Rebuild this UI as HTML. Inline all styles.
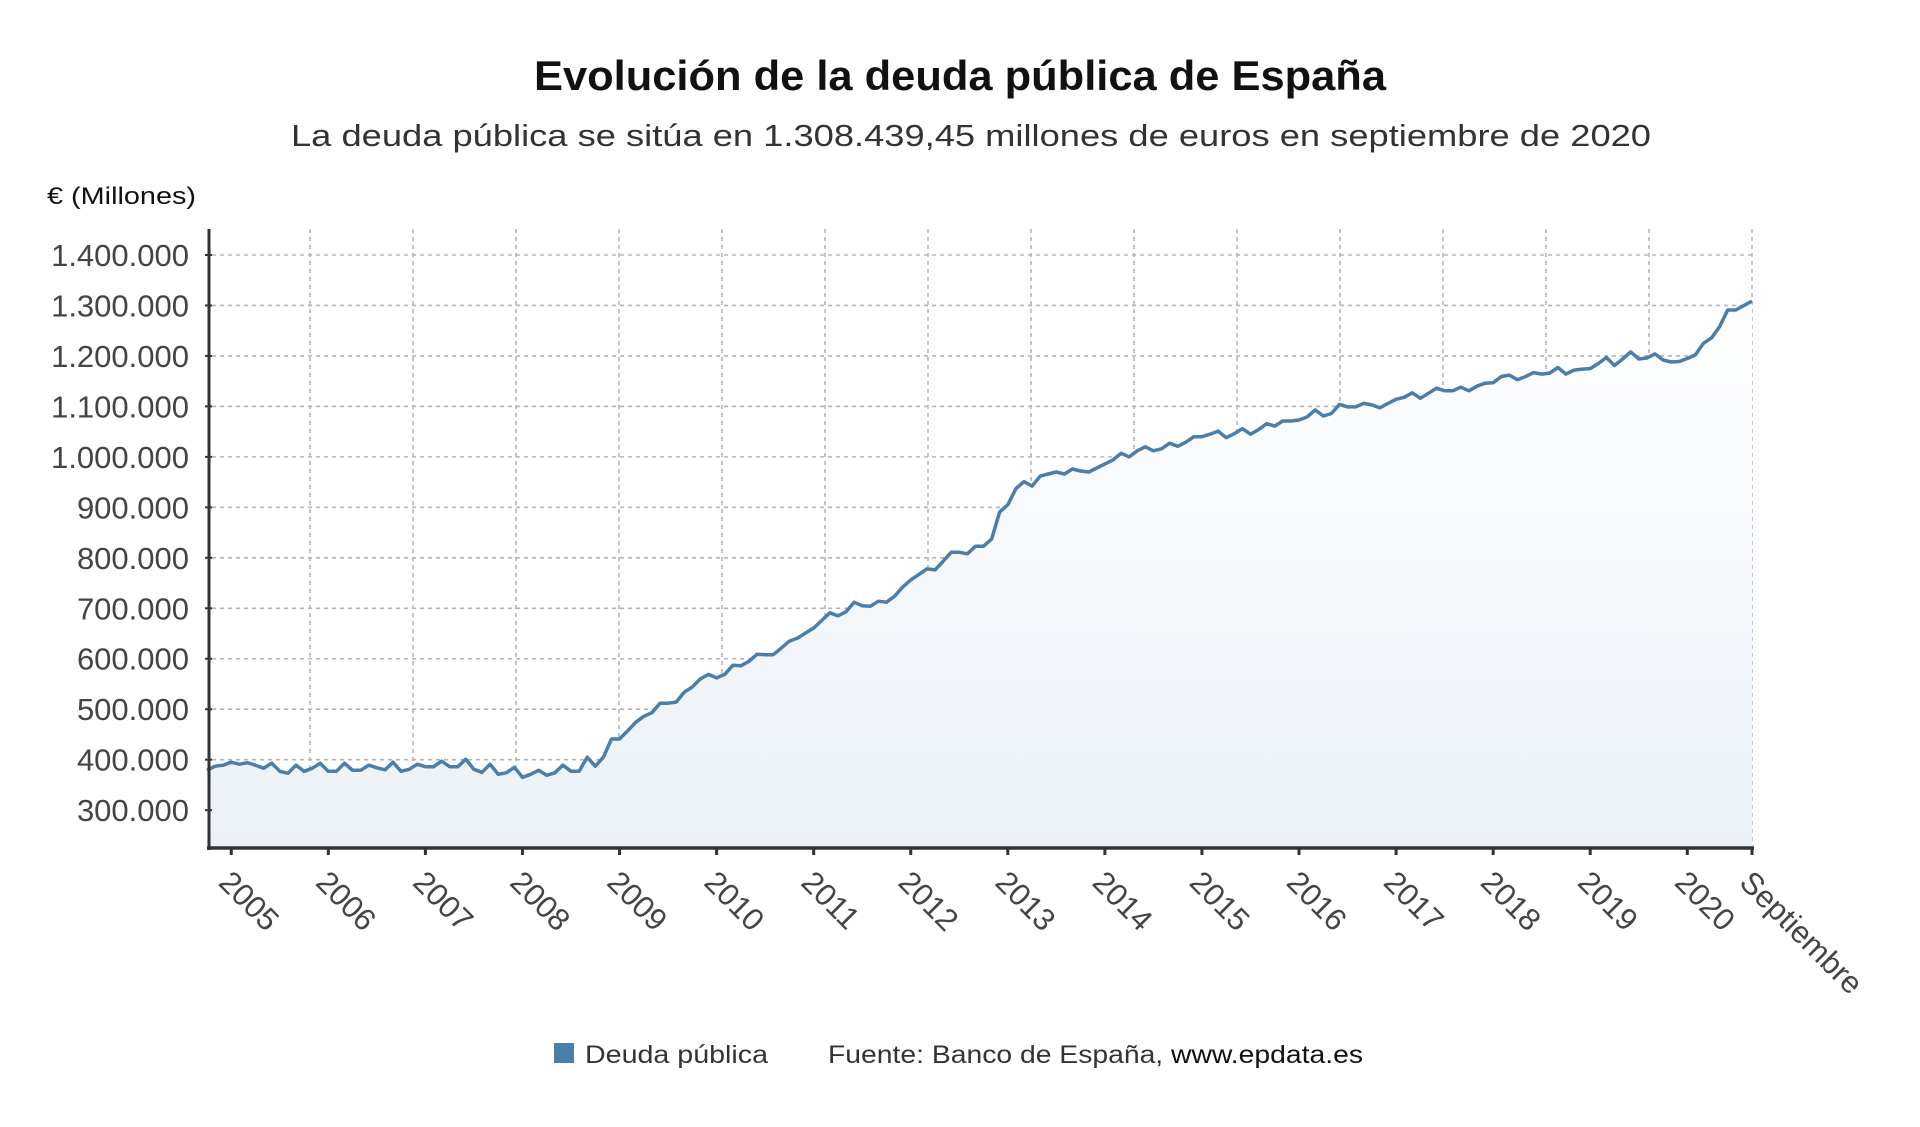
<!DOCTYPE html>
<html><head><meta charset="utf-8"><style>
html,body{margin:0;padding:0;background:#fff;}
svg{display:block;font-family:"Liberation Sans",sans-serif;}
</style></head><body>
<svg id="chart" width="1920" height="1127" viewBox="0 0 1920 1127" xmlns="http://www.w3.org/2000/svg">
<defs><linearGradient id="fillg" x1="0" y1="0" x2="0" y2="1"><stop offset="0" stop-color="#ffffff"/><stop offset="1" stop-color="#ebf1f7"/></linearGradient></defs>
<text x="960" y="90" text-anchor="middle" font-size="42" font-weight="bold" fill="#111" textLength="852" lengthAdjust="spacingAndGlyphs">Evolución de la deuda pública de España</text>
<text x="971" y="146" text-anchor="middle" font-size="31" fill="#333" textLength="1360" lengthAdjust="spacingAndGlyphs">La deuda pública se sitúa en 1.308.439,45 millones de euros en septiembre de 2020</text>
<text x="47" y="204" font-size="24" fill="#111" textLength="149" lengthAdjust="spacingAndGlyphs">€ (Millones)</text>
<g id="grid"></g><g id="series"></g><g id="axes"></g>
<g>
<rect x="554" y="1043" width="20" height="20" fill="#4a7eab"/>
<text x="585" y="1063" font-size="25" fill="#333" textLength="183" lengthAdjust="spacingAndGlyphs">Deuda pública</text>
<text x="828" y="1063" font-size="25" fill="#333" textLength="535" lengthAdjust="spacingAndGlyphs">Fuente: Banco de España, <tspan fill="#111">www.epdata.es</tspan></text>
</g>
</svg>
<script>
const startLabel = "Oct 2004";
const debtValues = [
379,387,389,395,391,394,389,383,393,377,
373,389,377,383,393,377,377,393,379,379,
389,384,380,395,377,381,391,386,386,397,
386,386,401,381,375,391,371,374,385,365,
371,379,369,374,389,377,377,405,387,405,
441,441,457,474,486,493,512,512,514,534,
544,560,569,562,569,
587,586,595,609,608,608,621,635,641,651,
661,676,691,685,693,712,705,704,714,712,
724,742,756,767,778,776,793,811,811,808,
823,823,837,891,905,937,951,942,962,966,
970,966,976,972,970,978,986,994,1007,1000,
1012,1020,1012,1016,1027,1021,1029,1040,
1040,1045,1051,1038,1046,1056,1045,1054,1066,1061,
1071,1071,1073,1079,1093,1081,1086,1104,1099,1099,
1106,1103,1097,1106,1114,1118,1127,1116,1126,1136,
1131,1131,1138,1131,1140,1146,1147,1159,1162,1153,
1159,1167,1164,1166,1177,1164,1172,1174,1175,1185,
1197,1181,1194,1208,1194,1196,1204,1192,1188,1189,
1195,1202,1225,1236,1258,1291,1291,1300,1308.44
];
const yTickValues = [300000,400000,500000,600000,700000,800000,900000,1000000,1100000,1200000,1300000,1400000];
const yTickLabels = ["300.000","400.000","500.000","600.000","700.000","800.000","900.000","1.000.000","1.100.000","1.200.000","1.300.000","1.400.000"];
const xTickLabels = ["2005","2006","2007","2008","2009","2010","2011","2012","2013","2014","2015","2016","2017","2018","2019","2020","Septiembre"];
const xTickIndex = [3,15,27,39,51,63,75,87,99,111,123,135,147,159,171,183,191];

const NS="http://www.w3.org/2000/svg";
const X0=207, X1=1752, YT=229, YB=848;
const yMin=225000, yMax=1400000, yMaxPx=255;
function xs(i){return X0+i*(X1-X0)/(debtValues.length-1);}
function ys(v){return YB-(v-yMin)*(YB-yMaxPx)/(yMax-yMin);}
function mk(tag,attrs,parent){const e=document.createElementNS(NS,tag);for(const k in attrs)e.setAttribute(k,attrs[k]);parent.appendChild(e);return e;}
const grid=document.getElementById('grid'),series=document.getElementById('series'),axes=document.getElementById('axes');

let pts=debtValues.map((v,i)=>xs(i).toFixed(1)+","+ys(v*1000).toFixed(1));
const area=mk('polygon',{points:X0+","+YB+" "+pts.join(" ")+" "+X1+","+YB,fill:"url(#fillg)"},series);



yTickValues.forEach((v,k)=>{
  const l=mk('line',{x1:212,x2:X1,y1:ys(v),y2:ys(v),stroke:"#b5b5b5","stroke-width":1.6,"stroke-dasharray":"4 4"},grid);
  
  
  const t=mk('text',{x:189,y:ys(v)+11,"text-anchor":"end","font-size":31,fill:"#444"},axes);
  t.textContent=yTickLabels[k];
  
  
  const tk=mk('line',{x1:205,x2:212,y1:ys(v),y2:ys(v),stroke:"#333","stroke-width":2},axes);
  
  
});
for(let k=1;k<=15;k++){
  const gx=X0+k*(X1-X0)/15;
  const l=mk('line',{x1:gx,x2:gx,y1:YT,y2:YB,stroke:"#b5b5b5","stroke-width":1.6,"stroke-dasharray":"4 4"},grid);
  
  
}
const line=mk('polyline',{points:pts.join(" "),fill:"none",stroke:"#4a7eab","stroke-width":3.5,"stroke-linejoin":"round"},series);



const ya=mk('line',{x1:209,x2:209,y1:YT,y2:YB+2,stroke:"#333","stroke-width":3},axes);


const xa=mk('line',{x1:207,x2:X1+2,y1:YB,y2:YB,stroke:"#333","stroke-width":3.5},axes);


xTickLabels.forEach((lab,k)=>{
  const tx=xs(xTickIndex[k]);
  const tk=mk('line',{x1:tx,x2:tx,y1:YB,y2:YB+7,stroke:"#333","stroke-width":3},axes);
  
  
  const ox=tx-14, oy=884;
  const t=mk('text',{x:ox,y:oy,"font-size":31,fill:"#444",transform:"rotate(45 "+ox+" "+oy+")"},axes);
  t.textContent=lab;
  
  
});
</script>
</body></html>
